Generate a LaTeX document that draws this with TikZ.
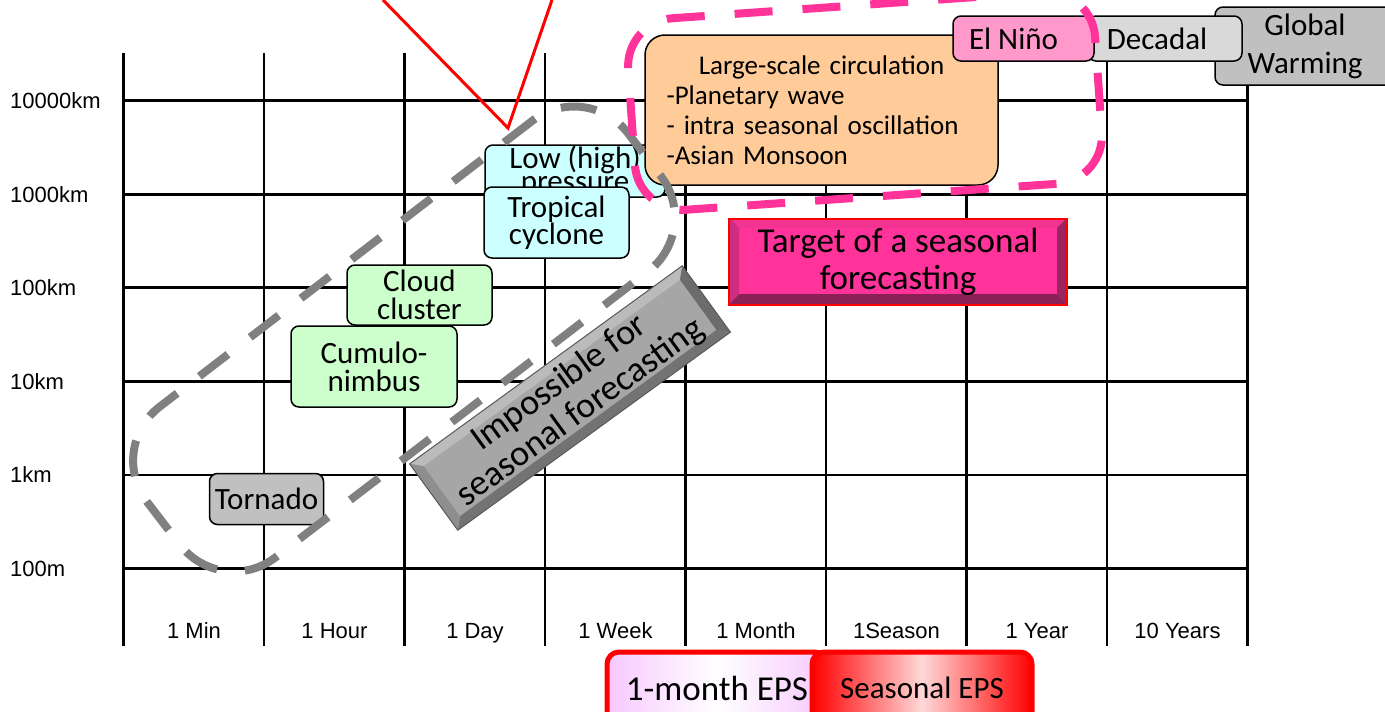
\documentclass[tikz,border=0pt]{standalone}
\usepackage{fontspec}
\setmainfont{Carlito}
\newfontfamily\axisfont{Liberation Sans}
\definecolor{cyanbox}{HTML}{CCFFFF}
\definecolor{greenbox}{HTML}{CCFFCC}
\definecolor{graybox}{HTML}{C0C0C0}
\definecolor{orangebox}{HTML}{FFCC99}
\definecolor{ninobox}{HTML}{FF99CC}
\definecolor{decbox}{HTML}{D9D9D9}
\definecolor{dashgray}{HTML}{808080}
\definecolor{dashpink}{HTML}{FF3399}
\definecolor{tgtmain}{HTML}{FF3399}
\definecolor{tgttop}{HTML}{F23392}
\definecolor{tgtleft}{HTML}{D02C80}
\definecolor{tgtright}{HTML}{9A2460}
\definecolor{tgtbot}{HTML}{8A2055}
\definecolor{impmain}{HTML}{A6A6A6}
\definecolor{imptop}{HTML}{BBBBBB}
\definecolor{impleft}{HTML}{8E8E8E}
\definecolor{impright}{HTML}{6C6C6C}
\definecolor{impbot}{HTML}{737373}
\definecolor{impedge}{HTML}{5A5A5A}
\definecolor{epsviolet}{HTML}{F7C8FF}
\definecolor{seasonpink}{HTML}{FFD8D8}
\begin{document}
\begin{tikzpicture}[x=1pt,y=-1pt,
  gridline/.style={draw=black, line width=2.8pt},
  ylabel/.style={anchor=base west, inner sep=0pt, font=\axisfont\fontsize{22}{26}\selectfont},
  xlabel/.style={anchor=base, inner sep=0pt, font=\axisfont\fontsize{22}{26}\selectfont},
  box/.style={draw=black, line width=1.5pt, rounded corners=8pt, inner sep=0pt, font=\fontsize{31}{24}\selectfont},
  redline/.style={draw=red, line width=3pt},
  eps/.style={draw=red, line width=5pt, rounded corners=12pt, inner sep=0pt, minimum width=220pt, minimum height=72pt}
]
\useasboundingbox (0,0) rectangle (1385,712);
\clip (0,0) rectangle (1385,712);
\fill[white] (0,0) rectangle (1385,712);

% grid
\foreach \i in {0,...,8} \draw[gridline] ({123.5+140.5*\i},53) -- ({123.5+140.5*\i},646);
\foreach \j in {0,...,5} \draw[gridline] (123.5,{100.5+93.6*\j}) -- (1247.5,{100.5+93.6*\j});

% axis labels
\foreach \lab [count=\j from 0] in {10000km,1000km,100km,10km,1km,100m}
  \node[ylabel] (y\j) at (10,{108.5+93.6*\j}) {\lab};
\foreach \lab [count=\i from 0] in {1 Min,1 Hour,1 Day,1 Week,1 Month,1Season,1 Year,10 Years}
  \node[xlabel] (x\i) at ({194+140.5*\i},638) {\lab};

% red V
\coordinate (vl) at (383,0);
\coordinate (vtip) at (508,128);
\coordinate (vr) at (552,0);
\draw[redline] (vl) -- (vtip) -- (vr);

% phenomena boxes
\node[box, fill=cyanbox, minimum width=180pt, minimum height=52pt, align=center, font=\fontsize{31}{23.5}\selectfont] (low) at (575,171) {Low (high)\\pressure};
\node[box, fill=cyanbox, minimum width=145pt, minimum height=71pt, align=center, font=\fontsize{31}{23.5}\selectfont] (trop) at (556.5,222.5) {Tropical\\cyclone};
\node[box, fill=greenbox, minimum width=145pt, minimum height=60pt, align=center, font=\fontsize{31}{28}\selectfont] (cloud) at (419.5,295) {Cloud\\cluster};
\node[box, fill=greenbox, minimum width=166pt, minimum height=81pt, align=center, font=\fontsize{31}{28}\selectfont] (cumulo) at (374,366.5) {Cumulo-\\nimbus};
\node[box, fill=graybox, minimum width=114pt, minimum height=51pt] (tornado) at (266.5,499) {Tornado};

\node[box, fill=orangebox, rounded corners=20pt, minimum width=353pt, minimum height=150pt, text width=310pt, align=left, font=\fontsize{27}{30}\selectfont] (lsc) at (821.5,110)
  {\makebox[310pt][c]{Large-scale circulation}\\-Planetary wave\\- intra seasonal oscillation\\-Asian Monsoon};

\node[box, fill=graybox, minimum width=180pt, minimum height=78pt, align=center, font=\fontsize{31}{38}\selectfont] (gw) at (1305,46) {Global\\Warming};
\node[box, fill=decbox, minimum width=154pt, minimum height=45pt] (dec) at (1165,38.5) {Decadal\kern16pt};
\node[box, fill=ninobox, minimum width=141pt, minimum height=45pt] (nino) at (1023.5,38.5) {El Niño\kern20pt};

% dashed zones
\node[draw=dashgray, line width=8pt, dash pattern=on 36pt off 28pt, rotate=37.5, minimum width=606pt, minimum height=190pt, rounded corners=68pt, inner sep=0pt] (impzone) at (404,339) {};
\node[draw=dashpink, line width=8pt, dash pattern=on 38pt off 30pt, rotate=4, minimum width=468pt, minimum height=192pt, rounded corners=48pt, inner sep=0pt] (tgtzone) at (865,101) {};

% target bevel box
\begin{scope}[shift={(898,261)}]
  \fill[tgtmain] (-169,-43) rectangle (169,43);
  \fill[tgttop] (-169,-43) -- (169,-43) -- (159,-33) -- (-159,-33) -- cycle;
  \fill[tgtbot] (-169,43) -- (169,43) -- (159,33) -- (-159,33) -- cycle;
  \fill[tgtleft] (-169,-43) -- (-159,-33) -- (-159,33) -- (-169,43) -- cycle;
  \fill[tgtright] (169,-43) -- (159,-33) -- (159,33) -- (169,43) -- cycle;
\end{scope}
\node[draw=red, line width=1.2pt, minimum width=338pt, minimum height=86pt, inner sep=0pt, align=center, font=\fontsize{35}{37}\selectfont] (target) at (898,262) {Target of a seasonal\\forecasting};

% impossible bevel box
\begin{scope}[shift={(570,398)}, rotate=36]
  \fill[impmain] (-168.5,-41) rectangle (168.5,41);
  \fill[imptop] (-168.5,-41) -- (168.5,-41) -- (158.5,-31) -- (-158.5,-31) -- cycle;
  \fill[impbot] (-168.5,41) -- (168.5,41) -- (158.5,31) -- (-158.5,31) -- cycle;
  \fill[impleft] (-168.5,-41) -- (-158.5,-31) -- (-158.5,31) -- (-168.5,41) -- cycle;
  \fill[impright] (168.5,-41) -- (158.5,-31) -- (158.5,31) -- (168.5,41) -- cycle;
\end{scope}
\node[draw=impedge, line width=1pt, rotate=36, minimum width=337pt, minimum height=82pt, inner sep=0pt, align=center, font=\fontsize{36}{36}\selectfont] (imp) at (570,398) {Impossible for\\seasonal forecasting};

% EPS boxes
\node[eps, left color=epsviolet, right color=epsviolet, middle color=white, font=\fontsize{35}{40}\selectfont] (eps1) at (717,688) {1-month EPS};
\node[eps, left color=red, right color=red, middle color=seasonpink, font=\fontsize{31}{36}\selectfont] (eps2) at (922,688) {Seasonal EPS};
\end{tikzpicture}
\end{document}
